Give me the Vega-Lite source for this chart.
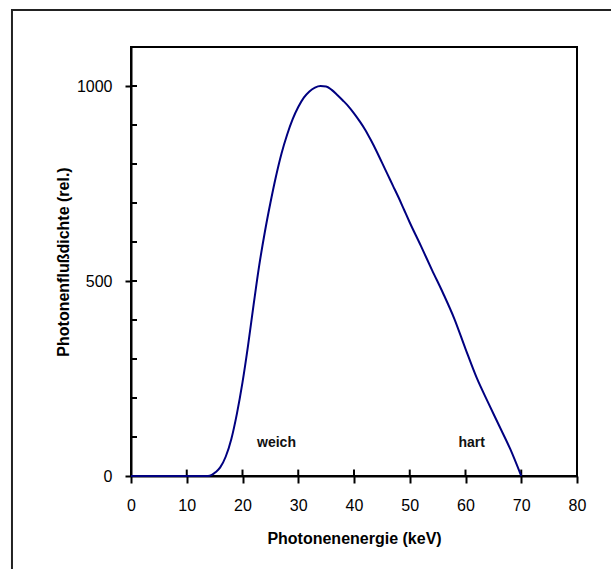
{
  "$schema": "https://vega.github.io/schema/vega-lite/v6.json",
  "autosize": "none",
  "width": 446,
  "height": 429,
  "padding": {"left": 131, "top": 47, "right": 34, "bottom": 93},
  "background": "white",
  "config": {
    "view": {"stroke": "black", "strokeWidth": 2},
    "font": "Liberation Sans",
    "axis": {
      "domainColor": "black", "domainWidth": 2, "tickColor": "black", "tickWidth": 2,
      "labelColor": "black", "titleColor": "black", "labelFont": "Liberation Sans",
      "titleFont": "Liberation Sans", "grid": false, "labelFontSize": 16, "titleFontSize": 16,
      "titleFontWeight": "bold"
    }
  },
  "datasets": {
    "curve": [
      {"e": 0, "f": 0}, {"e": 13.8, "f": 0}, {"e": 14.5, "f": 3}, {"e": 15.2, "f": 10},
      {"e": 16, "f": 22}, {"e": 17, "f": 50}, {"e": 18, "f": 95}, {"e": 19, "f": 160},
      {"e": 20, "f": 240}, {"e": 21, "f": 335}, {"e": 22, "f": 440}, {"e": 23, "f": 540},
      {"e": 24, "f": 625}, {"e": 25, "f": 700}, {"e": 26, "f": 768}, {"e": 27, "f": 827},
      {"e": 28, "f": 875}, {"e": 29, "f": 915}, {"e": 30, "f": 946}, {"e": 31, "f": 970},
      {"e": 32, "f": 986}, {"e": 33, "f": 996}, {"e": 34, "f": 1000}, {"e": 35, "f": 999},
      {"e": 36, "f": 990}, {"e": 37, "f": 977}, {"e": 38, "f": 963}, {"e": 39, "f": 948},
      {"e": 40, "f": 930}, {"e": 41, "f": 910}, {"e": 42, "f": 888}, {"e": 43, "f": 862},
      {"e": 44, "f": 834}, {"e": 45, "f": 804}, {"e": 46, "f": 774}, {"e": 47, "f": 744},
      {"e": 48, "f": 714}, {"e": 49, "f": 682}, {"e": 50, "f": 650}, {"e": 52, "f": 590},
      {"e": 54, "f": 528}, {"e": 56, "f": 468}, {"e": 58, "f": 403}, {"e": 60, "f": 326},
      {"e": 62, "f": 252}, {"e": 64, "f": 190}, {"e": 66, "f": 130}, {"e": 68, "f": 70},
      {"e": 70, "f": 0}
    ],
    "yticks": [
      {"v": 100}, {"v": 200}, {"v": 300}, {"v": 400}, {"v": 500},
      {"v": 600}, {"v": 700}, {"v": 800}, {"v": 900}, {"v": 1000}
    ],
    "xticks": [
      {"v": 10}, {"v": 20}, {"v": 30}, {"v": 40}, {"v": 50}, {"v": 60}, {"v": 70}
    ],
    "notes": [
      {"label": "weich", "e": 26.1, "f": 85},
      {"label": "hart", "e": 61.1, "f": 85}
    ]
  },
  "layer": [
    {
      "data": {"values": [{"a": 1}]},
      "mark": {"type": "rect", "fill": null, "fillOpacity": 0, "stroke": "#222222", "strokeWidth": 2, "clip": false},
      "encoding": {
        "x": {"datum": -21.35, "type": "quantitative", "scale": {"domain": [0, 80], "nice": false}},
        "x2": {"datum": 200},
        "y": {"datum": 1195, "type": "quantitative", "scale": {"domain": [0, 1100], "nice": false}},
        "y2": {"datum": -500}
      }
    },
    {
      "data": {"name": "yticks"},
      "mark": {"type": "rule", "color": "black", "strokeWidth": 2},
      "encoding": {
        "y": {"field": "v", "type": "quantitative"},
        "x": {"datum": 0, "type": "quantitative"},
        "x2": {"datum": 1.08}
      }
    },
    {
      "data": {"name": "xticks"},
      "mark": {"type": "rule", "color": "black", "strokeWidth": 2},
      "encoding": {
        "x": {"field": "v", "type": "quantitative"},
        "y": {"datum": 0, "type": "quantitative"},
        "y2": {"datum": 16.5}
      }
    },
    {
      "data": {"name": "curve"},
      "mark": {"type": "line", "color": "#000080", "strokeWidth": 2, "interpolate": "monotone"},
      "encoding": {
        "x": {
          "field": "e", "type": "quantitative",
          "scale": {"domain": [0, 80], "nice": false},
          "axis": {
            "title": "Photonenenergie (keV)", "values": [0, 10, 20, 30, 40, 50, 60, 70, 80],
            "format": "d", "tickSize": 7, "labelPadding": 14, "titlePadding": 17, "labelFlush": false
          }
        },
        "y": {
          "field": "f", "type": "quantitative",
          "scale": {"domain": [0, 1100], "nice": false},
          "axis": {
            "title": "Photonenflußdichte (rel.)", "values": [0, 500, 1000],
            "format": "d", "tickSize": 6, "labelPadding": 13, "titlePadding": 5, "labelFlush": false
          }
        }
      }
    },
    {
      "data": {"name": "notes"},
      "mark": {"type": "text", "font": "Liberation Sans", "fontSize": 14, "fontWeight": "bold", "color": "#111111", "align": "center", "baseline": "middle"},
      "encoding": {
        "x": {"field": "e", "type": "quantitative"},
        "y": {"field": "f", "type": "quantitative"},
        "text": {"field": "label"}
      }
    }
  ]
}
